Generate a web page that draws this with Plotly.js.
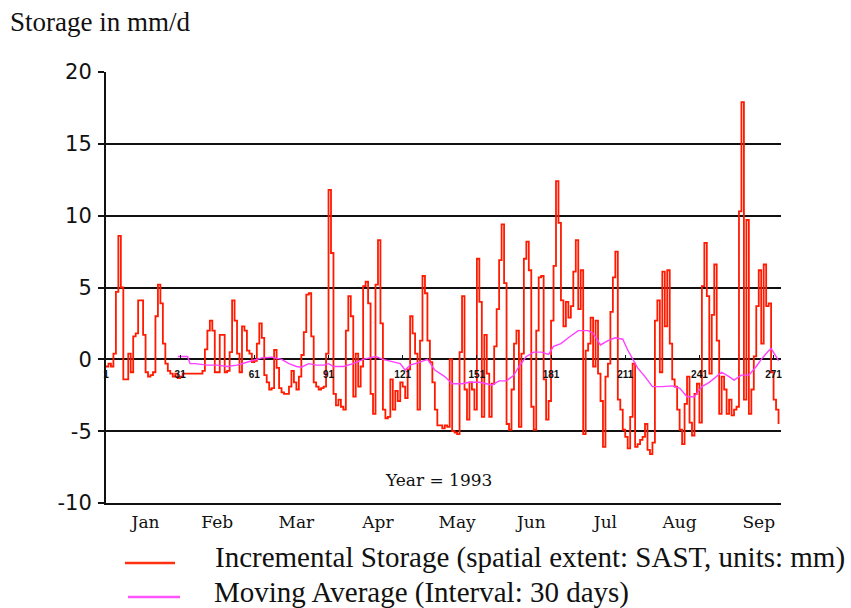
<!DOCTYPE html>
<html><head><meta charset="utf-8">
<script src="https://cdn.plot.ly/plotly-3.0.1.min.js"></script>
<style>html,body{margin:0;padding:0;background:#fff}#chart{width:851px;height:608px}</style>
</head><body><div id="chart"></div>
<script>
// Daily incremental storage, 1993, day 1 .. 273 (mm/d)
const storage = [
 -0.5,-0.3,-0.5,0.4,4.7,8.6,5.0,-1.4,-1.4,0.4,
 -0.9,1.6,1.8,4.1,4.1,1.7,-0.9,-1.2,-1.1,-0.9,
 3.0,5.2,3.9,1.1,-0.3,-0.8,-1.0,-1.2,-1.0,-1.3,
 -1.2,-1.0,-1.0,-1.0,-1.0,-1.0,-1.0,-1.0,-1.0,-0.8,
 0.7,2.0,2.7,2.0,-0.9,-0.9,1.7,1.7,-0.9,-0.8,
 0.5,4.1,2.7,0.4,-0.9,2.3,2.0,0.6,0.4,-0.2,
 -0.1,1.1,2.5,1.5,-1.1,-1.6,-2.1,-2.0,0.65,-0.6,
 -2.0,-2.3,-2.4,-2.4,-1.9,-0.8,-1.6,-2.1,-1.2,0.3,
 1.9,4.5,4.6,1.6,-1.6,-1.9,-2.1,-2.0,-1.9,0.4,
 11.8,7.4,-2.4,-3.2,-2.8,-3.3,-3.5,2.0,4.4,3.0,
 -2.6,0.4,-1.9,-0.5,5.1,5.4,3.9,-2.4,-3.8,5.2,
 8.3,2.5,-3.5,-4.1,-4.0,-1.4,-3.5,-2.2,-2.9,-1.6,
 -1.9,-2.7,-0.7,3.0,1.8,0.4,-3.5,1.3,5.8,4.6,
 1.3,-0.2,-1.6,-3.5,-4.6,-4.6,-4.8,-4.6,-4.7,0.0,
 -5.0,-5.1,-5.2,0.5,4.4,-2.1,-4.2,-1.6,-2.1,-3.5,
 7.0,4.0,-4.0,1.7,-1.0,-4.0,-1.7,0.9,3.5,6.9,
 9.4,5.3,-4.5,-4.9,-2.1,1.1,2.0,-4.7,0.4,7.0,
 8.2,6.2,-3.3,-4.9,2.0,5.7,5.8,-1.4,-4.2,-2.9,
 2.7,6.5,12.4,9.5,4.1,2.3,4.0,2.9,3.7,6.1,
 8.3,3.5,6.2,-5.2,0.6,1.1,2.9,-0.5,2.7,-1.0,
 -2.9,-6.1,-1.2,-0.3,3.3,5.7,7.5,-2.8,-3.5,-4.9,
 -5.4,-6.2,-4.0,-0.3,-6.1,-5.9,-5.6,-5.4,-4.5,-6.3,
 -6.6,-5.8,2.7,4.1,-0.9,6.1,2.3,6.2,1.1,-1.4,
 -1.9,-3.5,-4.9,-5.9,-3.1,-1.2,-4.4,-5.3,-2.4,-1.7,
 -4.4,5.1,8.1,4.4,-1.0,3.1,6.6,1.3,-3.8,-1.2,
 -2.1,-3.8,-2.8,-3.9,-3.5,-3.3,10.3,17.9,-2.8,9.7,
 -3.8,-2.1,0.2,3.7,6.2,1.1,6.6,3.7,3.9,-0.9,
 -2.8,-3.5,-4.5
];
const days = storage.map((_, i) => i + 1);

// 30-day moving average
const maDays = [30,34,35,37,42,46,50,54,58,62,64,68,72,75,78,80,83,86,89,91,93,97,101,105,110,113,117,120,122,124,128,131,134,138,141,145,148,152,155,157,160,163,166,168,171,174,177,180,182,185,188,192,196,198,201,204,207,210,212,214,216,219,222,226,230,233,236,239,242,245,248,250,253,255,258,261,264,266,269,270,272,273];
const maValues = [0.2,0.2,-0.3,-0.3,-0.4,-0.4,-0.5,-0.4,-0.2,0.0,0.1,0.15,0.0,-0.3,-0.5,-0.55,-0.3,-0.4,-0.4,-0.3,-0.5,-0.5,-0.3,0.0,0.2,0.0,-0.2,-0.3,-0.75,-0.4,-0.2,0.0,-0.75,-1.2,-1.7,-1.7,-1.6,-1.6,-1.7,-1.8,-1.5,-1.5,-1.1,-0.5,0.2,0.5,0.5,0.35,0.9,1.1,1.5,2.0,2.0,1.8,1.0,1.3,1.5,1.4,0.65,0.0,-0.6,-1.2,-1.9,-1.9,-1.85,-2.0,-2.6,-2.6,-1.9,-1.6,-1.2,-0.9,-1.2,-1.45,-1.1,-1.1,-0.5,0.0,0.6,0.75,0.2,-0.1];

const dayTickVals = [1,31,61,91,121,151,181,211,241,271];
const monthLabels = ['Jan','Feb','Mar','Apr','May','Jun','Jul','Aug','Sep'];
const monthTickDays = [17,46,78,111,143,173,203,233,265];
const yTickVals = [-10,-5,0,5,10,15,20];

const L = 106, R = 781, T = 72, B = 503;
const px2x = p => (p - L) / (R - L);
const px2y = p => (B - p) / (B - T);

const traces = [
  {x: days, y: storage, type: 'scatter', mode: 'lines', line: {color: '#ff1a00', width: 1.8, shape: 'hv'},
   name: 'Incremental Storage (spatial extent: SAST, units: mm)', showlegend: false, hoverinfo: 'skip', cliponaxis: false},
  {x: maDays, y: maValues, type: 'scatter', mode: 'lines', xaxis: 'x2', line: {color: '#ff40ff', width: 1.4},
   name: 'Moving Average (Interval: 30 days)', showlegend: false, hoverinfo: 'skip'}
];

const layout = {
  width: 851, height: 608,
  margin: {l: L, r: 851 - R, t: T, b: 608 - B, pad: 0},
  paper_bgcolor: '#fff', plot_bgcolor: '#fff',
  title: {text: 'Storage in mm/d', x: 10/851, xref: 'container', xanchor: 'left',
          y: 1 - 22/608, yref: 'container', yanchor: 'middle',
          font: {family: 'Liberation Serif', size: 27, color: '#111'}},
  xaxis: {range: [1, 274], showgrid: false, zeroline: false, showline: true, linecolor: '#111', linewidth: 2,
          tickvals: monthTickDays, ticktext: monthLabels, ticks: '', ticklabelstandoff: 3,
          tickfont: {family: 'DejaVu Serif', size: 17, color: '#111'}, fixedrange: true},
  xaxis2: {overlaying: 'x', anchor: 'free', position: 1/3, side: 'bottom', range: [1, 274],
           tickvals: dayTickVals, ticktext: dayTickVals.map(String), ticks: 'inside', ticklen: 4, tickwidth: 1,
           tickcolor: '#111', showgrid: false, zeroline: false, showline: false, ticklabelstandoff: 8,
           tickfont: {family: 'Liberation Sans', size: 10, color: '#111', weight: 'bold'}, fixedrange: true},
  yaxis: {range: [-10, 20], tickvals: yTickVals, ticktext: yTickVals.map(String),
          ticks: 'outside', ticklen: 6, tickwidth: 2, tickcolor: '#111', ticklabelstandoff: 2,
          showgrid: true, gridcolor: '#111', gridwidth: 2, zeroline: true, zerolinecolor: '#111', zerolinewidth: 2,
          showline: true, linecolor: '#111', linewidth: 2,
          tickfont: {family: 'DejaVu Sans', size: 21, color: '#111'}, fixedrange: true},
  shapes: [
    {type: 'line', xref: 'paper', yref: 'paper', x0: px2x(125), x1: px2x(175), y0: px2y(563), y1: px2y(563),
     line: {color: '#ff3010', width: 2.5}},
    {type: 'line', xref: 'paper', yref: 'paper', x0: px2x(128), x1: px2x(180), y0: px2y(597), y1: px2y(597),
     line: {color: '#ff55ff', width: 2.5}}
  ],
  annotations: [
    {text: 'Year = 1993', xref: 'paper', yref: 'paper', x: px2x(438), y: px2y(480), xanchor: 'center', yanchor: 'middle',
     showarrow: false, font: {family: 'DejaVu Serif', size: 17, color: '#111'}},
    {text: 'Incremental Storage (spatial extent: SAST, units: mm)', xref: 'paper', yref: 'paper',
     x: px2x(213), y: px2y(557), xanchor: 'left', yanchor: 'middle', showarrow: false,
     font: {family: 'Liberation Serif', size: 29, color: '#111'}},
    {text: 'Moving Average (Interval: 30 days)', xref: 'paper', yref: 'paper',
     x: px2x(212), y: px2y(592), xanchor: 'left', yanchor: 'middle', showarrow: false,
     font: {family: 'Liberation Serif', size: 29, color: '#111'}}
  ]
};

Plotly.newPlot('chart', traces, layout, {staticPlot: true, displayModeBar: false});
</script>
</body></html>
